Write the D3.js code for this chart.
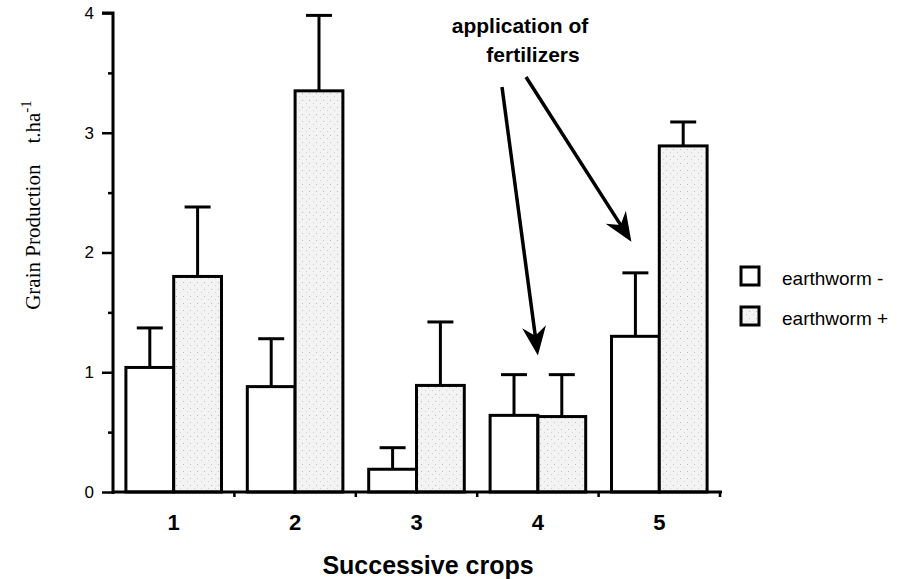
<!DOCTYPE html>
<html>
<head>
<meta charset="utf-8">
<title>Grain production over successive crops</title>
<script src="https://d3js.org/d3.v7.min.js"></script>
<style>
  body { margin: 0; background: #fff; }
  svg { display: block; }
</style>
</head>
<body>
<div id="chart"></div>
<script>
// values
var crops = ["1", "2", "3", "4", "5"];
var earthwormMinus = [1.04, 0.88, 0.19, 0.64, 1.30];
var earthwormMinusSE = [0.33, 0.40, 0.18, 0.34, 0.53];
var earthwormPlus = [1.80, 3.35, 0.89, 0.63, 2.89];
var earthwormPlusSE = [0.58, 0.63, 0.53, 0.35, 0.20];
var yTicks = [0, 1, 2, 3, 4];
var yMinorTicks = [0.5, 1.5, 2.5, 3.5];
var seriesNames = ["earthworm -", "earthworm +"];

var W = 901, H = 579;
var plotLeft = 113, plotRight = 720, plotTop = 13, plotBottom = 492;

var svg = d3.select("#chart").append("svg")
  .attr("width", W).attr("height", H);

// light stipple for the "+" bars
var defs = svg.append("defs");
var pat = defs.append("pattern").attr("id", "stipple")
  .attr("patternUnits", "userSpaceOnUse").attr("width", 7).attr("height", 7);
pat.append("rect").attr("width", 7).attr("height", 7).attr("fill", "#f3f3f3");
pat.append("rect").attr("x", 1).attr("y", 2).attr("width", 1).attr("height", 1).attr("fill", "#bdbdbd");
pat.append("rect").attr("x", 5).attr("y", 5).attr("width", 1).attr("height", 1).attr("fill", "#d0d0d0");

var x = d3.scaleBand().domain(crops).range([plotLeft, plotRight]).paddingInner(0).paddingOuter(0);
var xs = d3.scaleBand().domain(seriesNames).range([0, x.bandwidth()])
  .paddingInner(0).paddingOuter(0.27);
var y = d3.scaleLinear().domain([0, 4]).range([plotBottom, plotTop]);

var rows = crops.map(function(c, i) {
  return [
    {crop: c, s: seriesNames[0], v: earthwormMinus[i], se: earthwormMinusSE[i]},
    {crop: c, s: seriesNames[1], v: earthwormPlus[i], se: earthwormPlusSE[i]}
  ];
});
var flat = [].concat.apply([], rows);

// error bars (drawn first so bar outline covers the stem base)
var eb = svg.append("g").attr("stroke", "#000").attr("stroke-width", 3);
flat.forEach(function(d) {
  var cx = x(d.crop) + xs(d.s) + xs.bandwidth() / 2;
  eb.append("line").attr("x1", cx).attr("x2", cx)
    .attr("y1", y(d.v)).attr("y2", y(d.v + d.se));
  eb.append("line").attr("x1", cx - 13).attr("x2", cx + 13)
    .attr("y1", y(d.v + d.se)).attr("y2", y(d.v + d.se));
});

// bars
svg.append("g").selectAll("rect").data(flat).enter().append("rect")
  .attr("x", function(d) { return x(d.crop) + xs(d.s); })
  .attr("width", xs.bandwidth())
  .attr("y", function(d) { return y(d.v); })
  .attr("height", function(d) { return y(0) - y(d.v); })
  .attr("fill", function(d) { return d.s === seriesNames[0] ? "#fff" : "url(#stipple)"; })
  .attr("stroke", "#000").attr("stroke-width", 3);

// y axis
var yAxis = svg.append("g").attr("transform", "translate(" + plotLeft + ",0)")
  .call(d3.axisLeft(y).tickValues(yTicks).tickSize(11).tickPadding(8).tickFormat(d3.format("d")));
yAxis.select(".domain").attr("stroke-width", 3).attr("d", "M0," + (plotBottom + 2) + "V" + plotTop + "H-11");
yAxis.selectAll(".tick line").attr("stroke-width", 2.5);
yAxis.selectAll(".tick text").style("font-family", "Liberation Sans, Arial, sans-serif")
  .style("font-size", "17px").attr("fill", "#000");
svg.append("g").attr("transform", "translate(" + plotLeft + ",0)")
  .call(d3.axisLeft(y).tickValues(yMinorTicks).tickSize(5).tickFormat(""))
  .call(function(g) { g.select(".domain").remove(); })
  .selectAll("line").attr("stroke-width", 2.5);

// x axis
var xAxis = svg.append("g").attr("transform", "translate(0," + plotBottom + ")")
  .call(d3.axisBottom(x).tickSize(0).tickPadding(22));
xAxis.select(".domain").attr("stroke-width", 3).attr("d", "M" + (plotLeft - 1) + ",0H" + (plotRight + 2));
xAxis.selectAll(".tick text").attr("dy", null).attr("y", 38)
  .style("font-family", "Liberation Sans, Arial, sans-serif")
  .style("font-size", "22px").style("font-weight", "bold").attr("fill", "#000");
// small ticks at group boundaries
var bounds = crops.map(function(c) { return x(c) + x.bandwidth(); });
svg.append("g").selectAll("line").data(bounds).enter().append("line")
  .attr("x1", function(d) { return d; }).attr("x2", function(d) { return d; })
  .attr("y1", plotBottom).attr("y2", plotBottom + 5)
  .attr("stroke", "#000").attr("stroke-width", 2.5);

// axis titles
svg.append("text")
  .attr("x", 428).attr("y", 574)
  .attr("text-anchor", "middle")
  .style("font-family", "Liberation Sans, Arial, sans-serif")
  .style("font-size", "25px").style("font-weight", "bold")
  .text("Successive crops");

var yt = svg.append("text")
  .attr("transform", "translate(40,205) rotate(-90)")
  .attr("text-anchor", "middle")
  .style("font-family", "Liberation Serif, Times New Roman, serif")
  .style("font-size", "21px");
yt.append("tspan").text("Grain Production\u00a0\u00a0\u00a0 t.ha");
yt.append("tspan").attr("dy", -9).style("font-size", "15px").text("-1");

// legend
var lg = svg.append("g").attr("transform", "translate(741,267)");
seriesNames.forEach(function(s, i) {
  lg.append("rect").attr("x", 0).attr("y", i * 40).attr("width", 18).attr("height", 18)
    .attr("fill", i === 0 ? "#fff" : "url(#stipple)")
    .attr("stroke", "#000").attr("stroke-width", 3);
  lg.append("text").attr("x", 41).attr("y", i * 40 + 18)
    .style("font-family", "Liberation Sans, Arial, sans-serif")
    .style("font-size", "19px")
    .text(s);
});

// annotation
var ann = svg.append("g")
  .style("font-family", "Liberation Sans, Arial, sans-serif")
  .style("font-size", "21px").style("font-weight", "bold");
ann.append("text").attr("x", 520).attr("y", 33).attr("text-anchor", "middle").text("application of");
ann.append("text").attr("x", 533).attr("y", 62).attr("text-anchor", "middle").text("fertilizers");

var arrows = [
  {from: [502, 87], crop: "4", frac: 0.5, v: 1.14},
  {from: [526, 77], crop: "5", frac: 0.27, v: 2.09}
];
arrows.forEach(function(a) {
  var tx = x(a.crop) + a.frac * x.bandwidth(), ty = y(a.v);
  var dx = tx - a.from[0], dy = ty - a.from[1];
  var len = Math.sqrt(dx * dx + dy * dy), ux = dx / len, uy = dy / len;
  var px = -uy, py = ux;
  var hl = 29, hw = 12;
  var bx = tx - ux * hl, by = ty - uy * hl;
  svg.append("line").attr("x1", a.from[0]).attr("y1", a.from[1])
    .attr("x2", tx - ux * 12).attr("y2", ty - uy * 12)
    .attr("stroke", "#000").attr("stroke-width", 3.5);
  svg.append("path")
    .attr("d", "M" + tx + "," + ty +
      "L" + (bx + px * hw) + "," + (by + py * hw) +
      "L" + (tx - ux * 20) + "," + (ty - uy * 20) +
      "L" + (bx - px * hw) + "," + (by - py * hw) + "Z")
    .attr("fill", "#000");
});
</script>
</body>
</html>
